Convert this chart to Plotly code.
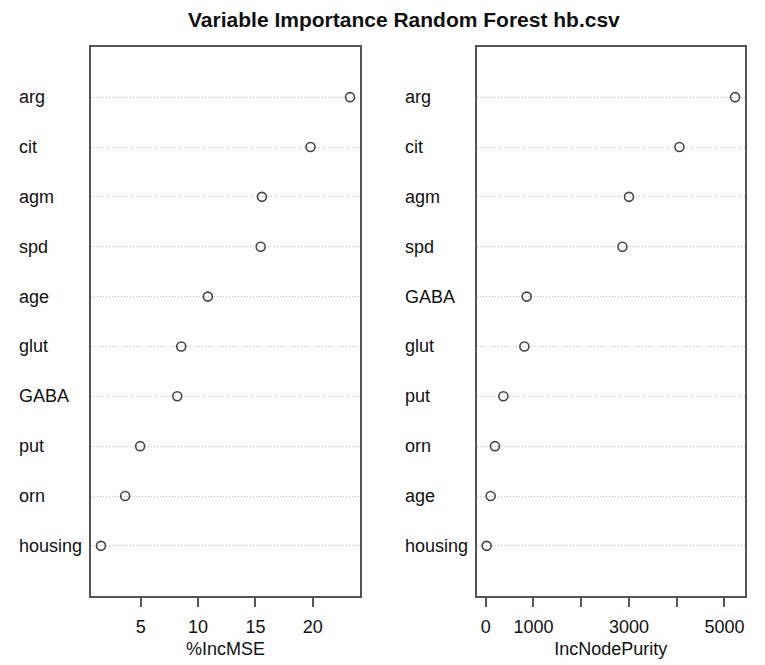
import plotly.graph_objects as go

# variable importance from randomForest, rows listed top to bottom
mse_vars = ["arg", "cit", "agm", "spd", "age", "glut", "GABA", "put", "orn", "housing"]
mse_vals = [23.26, 19.81, 15.57, 15.46, 10.85, 8.53, 8.18, 4.94, 3.63, 1.52]

purity_vars = ["arg", "cit", "agm", "spd", "GABA", "glut", "put", "orn", "age", "housing"]
purity_vals = [5223, 4058, 3002, 2864, 859, 811, 371, 195, 105, 21]

mse_ticks = [5, 10, 15, 20]
purity_ticks = [0, 1000, 2000, 3000, 4000, 5000]
purity_ticktext = ["0", "1000", "", "3000", "", "5000"]

FONT = "Liberation Sans, Arial, sans-serif"
BOX = "#555555"
TXT = "#111111"


def padded(vals):
    # R style 4% padding either side
    lo, hi = min(vals), max(vals)
    ext = (hi - lo) * 0.04
    return [lo - ext, hi + ext]


n = len(mse_vars)
rows = list(range(n, 0, -1))  # top row gets highest y

fig = go.Figure()
fig.add_trace(go.Scatter(x=mse_vals, y=rows, mode="markers", xaxis="x", yaxis="y",
                         marker=dict(symbol="circle-open", size=9, color="#444444", line=dict(width=1.6)),
                         showlegend=False, hoverinfo="skip"))
fig.add_trace(go.Scatter(x=purity_vals, y=rows, mode="markers", xaxis="x2", yaxis="y2",
                         marker=dict(symbol="circle-open", size=9, color="#444444", line=dict(width=1.6)),
                         showlegend=False, hoverinfo="skip"))

axis_common = dict(showline=True, mirror=True, linecolor=BOX, linewidth=1.5, zeroline=False,
                   ticks="outside", ticklen=10, tickwidth=1.5, tickcolor=BOX, ticklabelstandoff=4,
                   tickfont=dict(family=FONT, size=18, color=TXT), showgrid=False)
yaxis_common = dict(showline=True, mirror=True, linecolor=BOX, linewidth=1.5, zeroline=False,
                    range=[0, n + 1], tickvals=rows, showticklabels=False, ticks="",
                    showgrid=True, gridcolor="#c4c4c4", griddash="1px,2px", gridwidth=1)

# page body has an 8px margin, domains are set so the boxes land where the reference has them
fig.update_layout(
    width=765, height=665,
    margin=dict(l=0, r=0, t=0, b=0),
    paper_bgcolor="white", plot_bgcolor="white",
    xaxis=dict(domain=[0.1085, 0.4601], range=padded(mse_vals), tickvals=mse_ticks,
               title=dict(text="%IncMSE", font=dict(family=FONT, size=18, color=TXT), standoff=6),
               anchor="y", **axis_common),
    yaxis=dict(domain=[0.1162, 0.9409], anchor="x", **yaxis_common),
    xaxis2=dict(domain=[0.6127, 0.9634], range=padded(purity_vals), tickvals=purity_ticks,
                ticktext=purity_ticktext,
                title=dict(text="IncNodePurity", font=dict(family=FONT, size=18, color=TXT), standoff=6),
                anchor="y2", **axis_common),
    yaxis2=dict(domain=[0.1162, 0.9409], anchor="x2", **yaxis_common),
)

# left aligned row labels, as dotchart draws them
for name, r in zip(mse_vars, rows):
    fig.add_annotation(text=name, xref="paper", yref="y", x=0.0122, y=r, xanchor="left",
                       yanchor="middle", showarrow=False,
                       font=dict(family=FONT, size=18, color=TXT))
for name, r in zip(purity_vars, rows):
    fig.add_annotation(text=name, xref="paper", yref="y2", x=0.5163, y=r, xanchor="left",
                       yanchor="middle", showarrow=False,
                       font=dict(family=FONT, size=18, color=TXT))

fig.add_annotation(text="<b>Variable Importance Random Forest hb.csv</b>", xref="paper", yref="paper",
                   x=0.5176, y=0.983, xanchor="center", yanchor="middle", showarrow=False,
                   font=dict(family=FONT, size=21, color=TXT))

fig.write_html("out.html")
